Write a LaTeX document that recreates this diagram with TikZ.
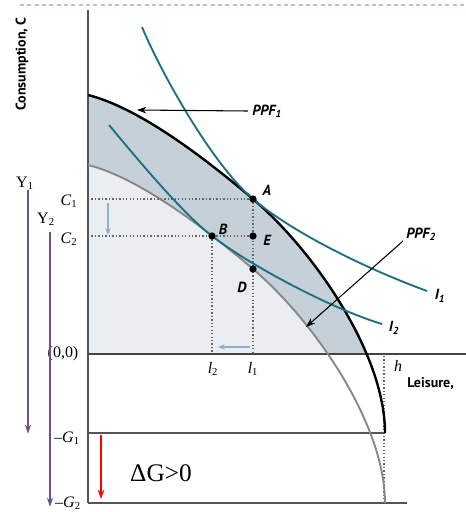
\documentclass[tikz,border=0pt]{standalone}
\usepackage{fontspec}
\setmainfont{Liberation Serif}
\setsansfont{PT Sans}
\usetikzlibrary{arrows.meta}
\definecolor{darkfill}{RGB}{197,208,216}
\definecolor{lightfill}{RGB}{234,238,241}
\definecolor{axisgray}{RGB}{85,85,85}
\definecolor{curvegray}{RGB}{135,135,135}
\definecolor{tealc}{RGB}{30,112,128}
\definecolor{dotgray}{RGB}{100,100,100}
\definecolor{hintblue}{RGB}{140,175,210}
\definecolor{purp}{RGB}{105,85,135}
\definecolor{topdash}{RGB}{175,198,222}
\tikzset{
 axisline/.style={draw=axisgray, line width=1.1pt},
 baseaxis/.style={draw=axisgray!80!black, line width=1.5pt},
 ppfone/.style={draw=black, line width=1.8pt},
 ppftwo/.style={draw=curvegray, line width=1.4pt},
 indiff/.style={draw=tealc, line width=1.4pt},
 guide/.style={draw=dotgray, line width=1pt, dash pattern=on 1pt off 1.6pt},
 dotpt/.style={circle, fill=black, inner sep=0pt, minimum size=5.5pt},
 ptlabel/.style={font=\fontsize{11}{13}\selectfont\sffamily\bfseries\itshape, inner sep=0pt},
 sanslabel/.style={font=\fontsize{10.5}{12}\selectfont\sffamily\bfseries, inner sep=0pt},
 seriflabel/.style={font=\fontsize{12}{14}\selectfont, inner sep=0pt},
 pointer/.style={draw=black, line width=0.8pt, -{Stealth[length=7pt,width=5pt]}},
 hint/.style={draw=hintblue, line width=0.8pt, -{Stealth[length=5pt,width=4pt]}},
 yarrow/.style={draw=purp, line width=1.5pt, -{Stealth[length=7pt,width=4.5pt]}},
}
\begin{document}
\begin{tikzpicture}[x=0.75pt,y=-0.75pt]
\useasboundingbox (0,0) rectangle (466,512);
% top dashed line
\coordinate (dl) at (20,5);
\coordinate (dr) at (466,5);
\draw[topdash, line width=0.8pt, dash pattern=on 3pt off 2.5pt] (dl) -- (dr);
% fills
\begin{scope}
\clip (88,0) rectangle (466,354);
\fill[darkfill] (88,95) .. controls (138,107.5) and (203,156.5) .. (253,199) .. controls (313,250) and (385,353) .. (385,433) -- (88,433) -- cycle;
\fill[lightfill] (88,165) .. controls (138,177.5) and (203,226.5) .. (253,269) .. controls (313,320) and (385,423) .. (385,503) -- (88,503) -- cycle;
\end{scope}
% key coordinates
\coordinate (Ap) at (253,199);
\coordinate (Bp) at (212,236);
\coordinate (Ep) at (253,236);
\coordinate (Dp) at (253,269);
\coordinate (c1ax) at (88,199);
\coordinate (c2ax) at (88,236);
\coordinate (l1ax) at (253,354);
\coordinate (l2ax) at (212,354);
\coordinate (htop) at (384,356);
\coordinate (hbot) at (384,503);
\coordinate (ytop) at (88,10);
\coordinate (ybot) at (88,503);
\coordinate (origin) at (88,354);
\coordinate (xend) at (466,354);
\coordinate (g1l) at (88,433);
\coordinate (g1r) at (385,433);
\coordinate (g2r) at (407,503);
% guides
\draw[guide] (c1ax) -- (Ap);
\draw[guide] (c2ax) -- (Ep);
\draw[guide] (Ap) -- (l1ax);
\draw[guide] (Bp) -- (l2ax);
\draw[guide] (htop) -- (hbot);
% axes
\draw[axisline] (ytop) -- (ybot);
\draw[axisline] (g1l) -- (g1r);
\draw[axisline] (ybot) -- (g2r);
\draw[baseaxis] (origin) -- (xend);
% PPF curves
\draw[ppftwo] (88,165) .. controls (138,177.5) and (203,226.5) .. (253,269) .. controls (313,320) and (385,423) .. (385,503);
\draw[ppfone] (88,95) .. controls (138,107.5) and (203,156.5) .. (253,199) .. controls (313,250) and (385,353) .. (385,433);
% indifference curves
\draw[indiff] (142,27) .. controls (162,75) and (213,165) .. (Ap) .. controls (293,233) and (367,269) .. (427,291);
\draw[indiff] (109,125) .. controls (139,161) and (182,212.75) .. (Bp) .. controls (250,265.5) and (332,309) .. (382,324);
% dots
\node[dotpt] (A) at (Ap) {};
\node[dotpt] (B) at (Bp) {};
\node[dotpt] (E) at (Ep) {};
\node[dotpt] (D) at (Dp) {};
% point labels
\node[ptlabel] (labA) at (267,190) {A};
\node[ptlabel] (labB) at (223,229) {B};
\node[ptlabel] (labE) at (267,240) {E};
\node[ptlabel] (labD) at (242,287) {D};
\node[ptlabel] (labI1) at (440,296) {I\textsubscript{1}};
\node[ptlabel] (labI2) at (394,328) {I\textsubscript{2}};
\node[ptlabel, anchor=west] (ppf1) at (252,111) {PPF\textsubscript{1}};
\node[ptlabel, anchor=west] (ppf2) at (406,234) {PPF\textsubscript{2}};
% pointers
\coordinate (ppf1tip) at (137,110);
\coordinate (ppf2tip) at (306,327);
\draw[pointer] (ppf1.west) ++(-4,0) coordinate (p1s) -- (ppf1tip);
\draw[pointer] (403,241) coordinate (p2s) -- (ppf2tip);
% light blue hints
\coordinate (h1s) at (108,203);
\coordinate (h1e) at (108,235);
\coordinate (h2s) at (250,347);
\coordinate (h2e) at (218,347);
\draw[hint] (h1s) -- (h1e);
\draw[hint] (h2s) -- (h2e);
% axis labels
\node[sanslabel, rotate=90] (ylab) at (22,64) {Consumption, C};
\node[sanslabel, anchor=west] (xlab) at (407,384) {Leisure,};
\node[seriflabel] (C1) at (69,201) {\textit{C}\textsubscript{1}};
\node[seriflabel] (C2) at (69,239) {\textit{C}\textsubscript{2}};
\node[seriflabel] (orig) at (63,354) {(0,0)};
\node[seriflabel] (G1) at (67,438) {–\textit{G}\textsubscript{1}};
\node[seriflabel] (G2) at (68,503) {–\textit{G}\textsubscript{2}};
\node[seriflabel] (l2) at (213,369) {\textit{l}\textsubscript{2}};
\node[seriflabel] (l1) at (253,369) {\textit{l}\textsubscript{1}};
\node[seriflabel] (hl) at (398,366) {\textit{h}};
% Y arrows
\node[seriflabel] (Y1) at (25,183) {Y\textsubscript{1}};
\node[seriflabel] (Y2) at (46,219) {Y\textsubscript{2}};
\coordinate (y1e) at (28,434);
\coordinate (y2e) at (50,507);
\draw[yarrow] (Y1.south -| y1e) -- (y1e);
\draw[yarrow] (Y2.south -| y2e) ++(0,6) -- (y2e);
% delta G
\coordinate (rs) at (101,435);
\coordinate (re) at (101,499);
\draw[red, line width=1.5pt, -{Stealth[length=7pt,width=5pt]}] (rs) -- (re);
\node[font=\fontsize{19}{22}\selectfont, inner sep=0pt] (dG) at (161,473) {ΔG>0};
\end{tikzpicture}
\end{document}
